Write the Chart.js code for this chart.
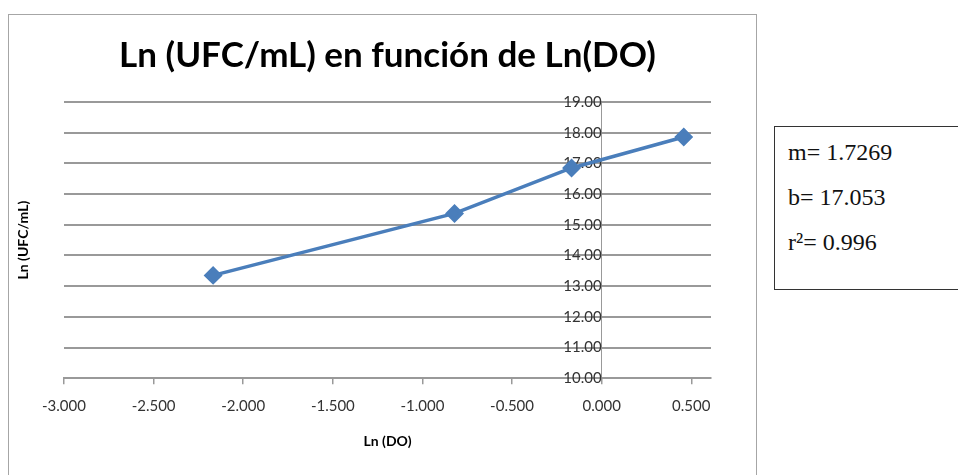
<!DOCTYPE html>
<html>
<head>
<meta charset="utf-8">
<script src="https://cdn.jsdelivr.net/npm/chart.js@4.4.1/dist/chart.umd.min.js"></script>
<style>
  body { margin: 0; background: #fff; width: 958px; height: 475px; overflow: hidden; position: relative; }
  #frame { position: absolute; left: 8px; top: 14px; width: 749px; height: 470px; border: 1px solid #a6a6a6; box-sizing: border-box; }
  #frame canvas { position: absolute; left: 0; top: 0; }
  #stats { position: absolute; left: 774px; top: 126px; width: 190px; height: 164px; border: 1.5px solid #333; box-sizing: border-box;
           font-family: "Liberation Serif", "DejaVu Serif", serif; font-size: 24px; color: #111; padding: 6px 0 0 13px; }
  #stats div { height: 45px; line-height: 38px; }
</style>
</head>
<body>
<div id="frame"><canvas id="chart" width="747" height="468"></canvas></div>
<div id="stats"></div>
<script>
// data
const lnDO = [-2.168, -0.821, -0.168, 0.458];
const lnUFC = [13.35, 15.37, 16.85, 17.86];
const xTicks = [-3, -2.5, -2, -1.5, -1, -0.5, 0, 0.5];
const yTicks = [10, 11, 12, 13, 14, 15, 16, 17, 18, 19];
const statLines = ['m= 1.7269', 'b= 17.053', 'r\u00B2= 0.996'];

const $ = q => document.querySelector(q);

// regression box
$('#stats').innerHTML = statLines.map(s => `<div>${s}</div>`).join('');

const gridGray = '#999';
const fam = 'Lato, "Open Sans", sans-serif';
const labelFont = { family: fam, size: 15 };

// rotated y title sitting left of the plot
const yTitle = {
  id: 'yTitle',
  afterDraw(chart) {
    const { ctx, chartArea } = chart;
    ctx.save();
    ctx.translate(14, (chartArea.top + chartArea.bottom) / 2);
    ctx.rotate(-Math.PI / 2);
    ctx.font = 'bold 14px ' + fam;
    ctx.fillStyle = '#000';
    ctx.textAlign = 'center';
    ctx.textBaseline = 'middle';
    ctx.fillText('Ln (UFC/mL)', 0, 0);
    ctx.restore();
  }
};

new Chart($('#chart'), {
  type: 'scatter',
  data: {
    datasets: [{
      data: lnDO.map((x, i) => ({ x, y: lnUFC[i] })),
      showLine: true,
      borderColor: '#4a7ebb',
      backgroundColor: '#4a7ebb',
      borderWidth: 3.5,
      pointStyle: 'rectRot',
      pointRadius: 7,
      pointHoverRadius: 7
    }]
  },
  options: {
    responsive: false,
    animation: false,
    layout: { padding: { left: 55, right: 45, top: 0, bottom: 29 } },
    plugins: {
      legend: { display: false },
      tooltip: { enabled: false },
      title: {
        display: true,
        text: 'Ln (UFC/mL) en función de Ln(DO)',
        color: '#000',
        font: { family: fam, size: 35, weight: 'bold' },
        padding: { top: 20, bottom: 25 }
      }
    },
    scales: {
      x: {
        type: 'linear',
        position: 'bottom',
        min: -3,
        max: 0.61,
        afterBuildTicks: s => { s.ticks = xTicks.map(value => ({ value })); },
        ticks: { color: '#333', font: labelFont, padding: 13, maxRotation: 0, callback: v => v.toFixed(3) },
        grid: { drawOnChartArea: false, drawTicks: true, tickLength: 6, color: gridGray, lineWidth: 1.5 },
        border: { display: true, color: gridGray, width: 2 },
        title: { display: true, text: 'Ln (DO)', color: '#000', font: { family: fam, size: 14, weight: 'bold' }, padding: { top: 5 } }
      },
      y: {
        type: 'linear',
        position: { x: 0 },
        min: 10,
        max: 19,
        afterBuildTicks: s => { s.ticks = yTicks.map(value => ({ value })); },
        ticks: { color: '#333', font: labelFont, padding: 3, callback: v => v.toFixed(2) },
        grid: { color: gridGray, lineWidth: 2, drawTicks: true, tickLength: 4 },
        border: { display: true, color: gridGray, width: 1 }
      }
    }
  },
  plugins: [yTitle]
});
</script>
</body>
</html>
